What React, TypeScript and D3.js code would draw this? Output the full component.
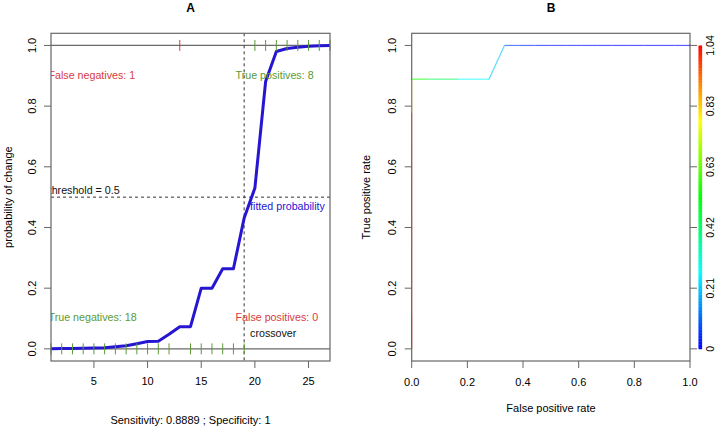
import React from "react";
import * as d3 from "d3";

// ---- data ----
const obsIndex = [1, 2, 3, 4, 5, 6, 7, 8, 9, 10, 11, 12, 13, 14, 15, 16, 17, 18, 19, 20, 21, 22, 23, 24, 25, 26, 27];
const fittedProb = [0.0005, 0.001, 0.0015, 0.002, 0.003, 0.004, 0.007, 0.01, 0.017, 0.024, 0.025, 0.048, 0.073, 0.073, 0.2, 0.2, 0.264, 0.264, 0.431, 0.53, 0.881, 0.98, 0.99, 0.994, 0.997, 0.999, 1.0];
const observed = [0, 0, 0, 0, 0, 0, 0, 0, 0, 0, 0, 0, 1, 0, 0, 0, 0, 0, 0, 1, 1, 1, 1, 1, 1, 1, 1];
const threshold = 0.5;
const crossover = 19;
const xTicksA = [5, 10, 15, 20, 25];
const yTicks = [0, 0.2, 0.4, 0.6, 0.8, 1.0];
const xTicksB = [0, 0.2, 0.4, 0.6, 0.8, 1.0];
const colorKeyLabels = ["0", "0.21", "0.42", "0.63", "0.83", "1.04"];
const colorMax = 1.04;

const FONT = "'Liberation Sans', Arial, Helvetica, sans-serif";
const RED = "#d83a3f";
const GREEN = "#5a9a35";
const BLUE = "#2616d2";
const BOX = "#666";

function rocPoints() {
  const cutoffs = Array.from(new Set(fittedProb)).sort((a, b) => b - a);
  const P = observed.filter((v) => v === 1).length;
  const N = observed.length - P;
  const pts = [{ fpr: 0, tpr: 0, cut: Infinity }];
  cutoffs.forEach((c) => {
    let tp = 0, fp = 0;
    fittedProb.forEach((p, i) => {
      if (p >= c) {
        if (observed[i] === 1) tp++;
        else fp++;
      }
    });
    pts.push({ fpr: fp / N, tpr: tp / P, cut: c });
  });
  return pts;
}

function cutColor(c: number) {
  const v = Math.min(c, colorMax);
  const f = Math.max(0, v / colorMax);
  return d3.hsl(240 * (1 - f), 1, 0.5).formatHex();
}

export default function App() {
  const W = 716, H = 429;
  const top = 33.3, bottom = 361;
  const y = d3.scaleLinear().domain([-0.04, 1.04]).range([bottom, top]);
  const xA = d3.scaleLinear().domain([1, 27]).range([51, 330]);
  const xB = d3.scaleLinear().domain([0, 1]).range([411.7, 690]);

  const line = d3
    .line<number>()
    .x((_, i) => xA(obsIndex[i]))
    .y((d) => y(d));

  const roc = rocPoints();
  const pos = observed.map((v, i) => ({ x: obsIndex[i], v, p: fittedProb[i] }));
  const tp = pos.filter((d) => d.v === 1 && d.p >= threshold).length;
  const fn = pos.filter((d) => d.v === 1 && d.p < threshold).length;
  const tn = pos.filter((d) => d.v === 0 && d.p < threshold).length;
  const fp = pos.filter((d) => d.v === 0 && d.p >= threshold).length;
  const sens = tp / (tp + fn);
  const spec = tn / (tn + fp);

  const fs = 11;
  const lfs = 10.7;

  const yAxisLeft = (x0: number) =>
    yTicks.map((t) => (
      <g key={"yl" + t}>
        <line x1={x0} x2={x0 - 7} y1={y(t)} y2={y(t)} stroke={BOX} />
        <text
          transform={`translate(${x0 - 15.5},${y(t)}) rotate(-90)`}
          textAnchor="middle"
          fontSize={fs}
        >
          {t.toFixed(1)}
        </text>
      </g>
    ));

  const keyScale = d3.scaleLinear().domain([0, colorMax]).range([y(0), y(1)]);
  const keySteps = d3.range(0, 200).map((i) => (i / 200) * colorMax);

  return (
    <svg
      width={W}
      height={H}
      style={{ position: "absolute", left: 0, top: 0, background: "#fff" }}
      fontFamily={FONT}
    >
      <defs>
        <clipPath id="clipA">
          <rect x={xA(1)} y={top} width={xA(27) - xA(1)} height={bottom - top} />
        </clipPath>
      </defs>

      {/* ---------- Panel A ---------- */}
      <text x={190.5} y={11.8} textAnchor="middle" fontWeight="bold" fontSize={12}>
        A
      </text>
      <line x1={xA(1)} x2={xA(27)} y1={y(0)} y2={y(0)} stroke="#6a6a6a" strokeWidth={1.2} />
      <line x1={xA(1)} x2={xA(27)} y1={y(1)} y2={y(1)} stroke="#6a6a6a" strokeWidth={1.2} />
      <line x1={xA(1)} x2={xA(27)} y1={y(threshold)} y2={y(threshold)} stroke="#333" strokeDasharray="3,3" />
      <line x1={xA(crossover)} x2={xA(crossover)} y1={top} y2={bottom} stroke="#333" strokeDasharray="3,3" />
      <path d={line(fittedProb) || ""} fill="none" stroke={BLUE} strokeWidth={3} strokeLinejoin="round" />
      {pos.map((d) => {
        const yy = d.v === 1 ? y(1) : y(0);
        const correct = d.v === 1 ? d.p >= threshold : d.p < threshold;
        return (
          <line
            key={"rug" + d.x}
            x1={xA(d.x)}
            x2={xA(d.x)}
            y1={yy - 5.5}
            y2={yy + 5.5}
            stroke={correct ? GREEN : RED}
            strokeWidth={1}
          />
        );
      })}
      <g clipPath="url(#clipA)" fontSize={lfs}>
        <text x={xA(8.85)} y={79} textAnchor="end" fill={RED}>
          {`False negatives: ${fn}`}
        </text>
        <text x={xA(18.2)} y={79} fill={GREEN}>
          {`True positives: ${tp}`}
        </text>
        <text x={xA(8.98)} y={321} textAnchor="end" fill={GREEN}>
          {`True negatives: ${tn}`}
        </text>
        <text x={xA(18.2)} y={321} fill={RED}>
          {`False positives: ${fp}`}
        </text>
        <text x={xA(19.55)} y={336.5} fill="#111">
          crossover
        </text>
        <text x={xA(7.4)} y={194} textAnchor="end" fill="#111">
          {`threshold = ${threshold}`}
        </text>
        <text x={xA(19.55)} y={210} fill={BLUE}>
          fitted probability
        </text>
      </g>
      <rect x={xA(1)} y={top} width={xA(27) - xA(1)} height={bottom - top} fill="none" stroke={BOX} strokeWidth={1.2} />
      {xTicksA.map((t) => (
        <g key={"xa" + t}>
          <line x1={xA(t)} x2={xA(t)} y1={bottom} y2={bottom + 7} stroke={BOX} />
          <text x={xA(t)} y={385} textAnchor="middle" fontSize={fs}>
            {t}
          </text>
        </g>
      ))}
      {yAxisLeft(xA(1))}
      <text transform={`translate(12,${(top + bottom) / 2}) rotate(-90)`} textAnchor="middle" fontSize={fs}>
        probability of change
      </text>
      <text x={190.5} y={424} textAnchor="middle" fontSize={fs}>
        {`Sensitivity: ${sens.toFixed(4)} ; Specificity: ${spec}`}
      </text>

      {/* ---------- Panel B ---------- */}
      <text x={551} y={11.8} textAnchor="middle" fontWeight="bold" fontSize={12}>
        B
      </text>
      <rect x={xB(0)} y={top} width={xB(1) - xB(0)} height={bottom - top} fill="none" stroke={BOX} strokeWidth={1.2} />
      {roc.slice(0, -1).map((p, i) => {
        const q = roc[i + 1];
        return (
          <line
            key={"roc" + i}
            x1={xB(p.fpr)}
            y1={y(p.tpr)}
            x2={xB(q.fpr)}
            y2={y(q.tpr)}
            stroke={cutColor(p.cut)}
            strokeWidth={1.2}
            strokeOpacity={p.fpr === 0 && q.fpr === 0 ? 0.45 : 0.65}
          />
        );
      })}
      {xTicksB.map((t) => (
        <g key={"xb" + t}>
          <line x1={xB(t)} x2={xB(t)} y1={bottom} y2={bottom + 7} stroke={BOX} />
          <text x={xB(t)} y={385.5} textAnchor="middle" fontSize={fs}>
            {t.toFixed(1)}
          </text>
        </g>
      ))}
      {yAxisLeft(xB(0))}
      {yTicks.map((t) => (
        <line key={"yr" + t} x1={xB(1)} x2={xB(1) + 7} y1={y(t)} y2={y(t)} stroke={BOX} />
      ))}
      {keySteps.map((v, i) => {
        const v2 = keySteps[i + 1] ?? colorMax;
        return (
          <rect
            key={"key" + i}
            x={698.5}
            y={keyScale(v2)}
            width={3.6}
            height={keyScale(v) - keyScale(v2) + 0.4}
            fill={cutColor(v)}
          />
        );
      })}
      {colorKeyLabels.map((lab, i) => (
        <text
          key={"kl" + lab}
          transform={`translate(713.5,${keyScale((i / (colorKeyLabels.length - 1)) * colorMax)}) rotate(-90)`}
          textAnchor="middle"
          fontSize={10.5}
        >
          {lab}
        </text>
      ))}
      <text x={551} y={411.5} textAnchor="middle" fontSize={fs}>
        False positive rate
      </text>
      <text transform={`translate(370,${(top + bottom) / 2}) rotate(-90)`} textAnchor="middle" fontSize={fs}>
        True positive rate
      </text>
    </svg>
  );
}
